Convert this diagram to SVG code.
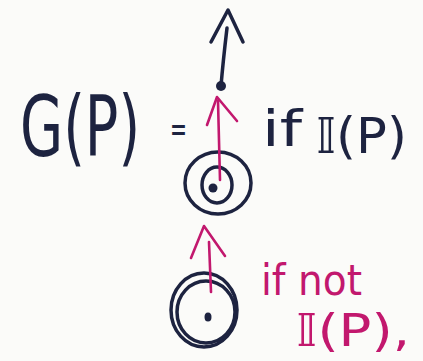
<svg xmlns="http://www.w3.org/2000/svg" width="423" height="361" viewBox="0 0 423 361">
<style>
.ink{fill:none;stroke:#1d2340;stroke-width:3.5;stroke-linecap:round;stroke-linejoin:round}
.pink{fill:none;stroke:#c2186e;stroke-width:2.6;stroke-linecap:round;stroke-linejoin:round}
.tb{fill:#1d2340;font-family:"DejaVu Sans","Liberation Sans",sans-serif}
.tp{fill:#c2186e;font-family:"DejaVu Sans","Liberation Sans",sans-serif}
</style>
<rect width="423" height="361" fill="#fbfbf9"/>
<g id="formula">
<text class="tb" transform="translate(20,156) scale(0.663,1)" x="0" y="0" font-size="84">G(P)</text>
<text class="tb" x="170" y="141" font-size="36" textLength="17" lengthAdjust="spacingAndGlyphs">=</text>
<text class="tb" x="262" y="146" font-size="50" textLength="40" lengthAdjust="spacingAndGlyphs">if</text>
<text class="tb" x="316" y="153" font-size="50" textLength="91" lengthAdjust="spacingAndGlyphs">𝕀(P)</text>
</g>
<g id="node-top">
<ellipse class="ink" cx="218" cy="183" rx="33" ry="31"/>
<ellipse class="ink" cx="217" cy="185" rx="15" ry="18"/>
<circle cx="213" cy="188" r="4.5" fill="#1d2340"/>
</g>
<g id="node-bottom">
<ellipse class="ink" cx="204" cy="310" rx="33" ry="37"/>
<ellipse class="ink" cx="206" cy="312" rx="29" ry="31" stroke-width="2.8"/>
<ellipse cx="208" cy="317" rx="3.5" ry="4.5" fill="#1d2340"/>
</g>
<g id="connectors">
<path class="ink" d="M221,86 C223,62 225,45 227,28" stroke-width="4"/>
<polyline class="ink" points="211,42 228,10 243,42" stroke-width="4"/>
<circle cx="221" cy="86" r="5" fill="#1d2340"/>
<path class="pink" d="M218,101 L220,180"/>
<polyline class="pink" points="207,125 217,97 237,121"/>
<path class="pink" d="M209,242 L211,292"/>
<polyline class="pink" points="191,258 204,226 225,256"/>
</g>
<g id="condition">
<text class="tp" x="261" y="295" font-size="42" textLength="101" lengthAdjust="spacingAndGlyphs">if not</text>
<text class="tp" x="296" y="346" font-size="44" textLength="114" lengthAdjust="spacingAndGlyphs">𝕀(P),</text>
</g>
</svg>
